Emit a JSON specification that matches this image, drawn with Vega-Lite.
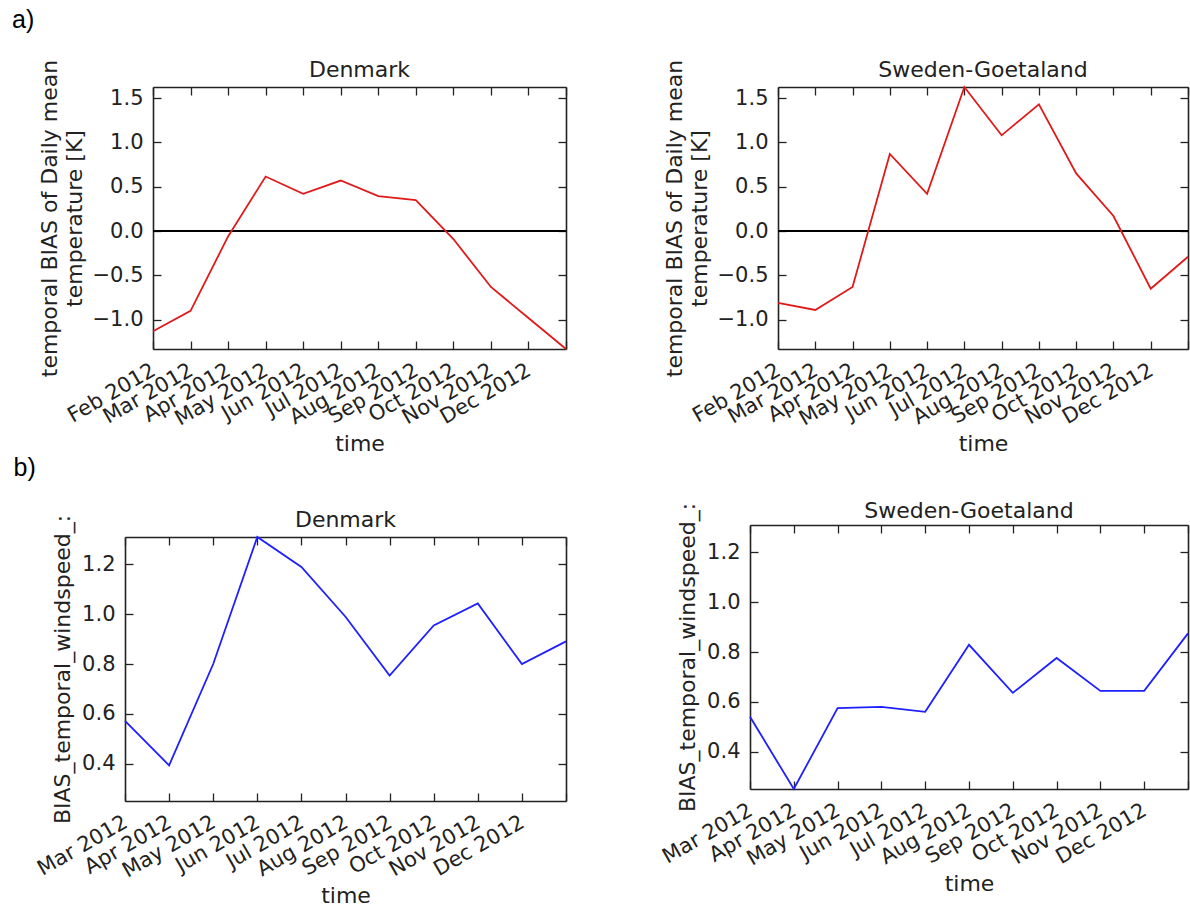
{
  "$schema": "https://vega.github.io/schema/vega-lite/v6.json",
  "padding": {"left": 12, "top": 8, "right": 0, "bottom": 0},
  "background": "white",
  "datasets": {
    "temp_dk": [
      {"month": "Feb 2012", "value": -1.13},
      {"month": "Mar 2012", "value": -0.90},
      {"month": "Apr 2012", "value": -0.06},
      {"month": "May 2012", "value": 0.615},
      {"month": "Jun 2012", "value": 0.42},
      {"month": "Jul 2012", "value": 0.57},
      {"month": "Aug 2012", "value": 0.395},
      {"month": "Sep 2012", "value": 0.35},
      {"month": "Oct 2012", "value": -0.09},
      {"month": "Nov 2012", "value": -0.63},
      {"month": "Dec 2012", "value": -0.98},
      {"month": "Jan 2013", "value": -1.33}
    ],
    "temp_se": [
      {"month": "Feb 2012", "value": -0.81},
      {"month": "Mar 2012", "value": -0.89},
      {"month": "Apr 2012", "value": -0.63},
      {"month": "May 2012", "value": 0.87},
      {"month": "Jun 2012", "value": 0.42},
      {"month": "Jul 2012", "value": 1.625},
      {"month": "Aug 2012", "value": 1.08},
      {"month": "Sep 2012", "value": 1.43},
      {"month": "Oct 2012", "value": 0.65},
      {"month": "Nov 2012", "value": 0.17},
      {"month": "Dec 2012", "value": -0.65},
      {"month": "Jan 2013", "value": -0.29}
    ],
    "ws_dk": [
      {"month": "Mar 2012", "value": 0.572},
      {"month": "Apr 2012", "value": 0.393},
      {"month": "May 2012", "value": 0.80},
      {"month": "Jun 2012", "value": 1.31},
      {"month": "Jul 2012", "value": 1.19},
      {"month": "Aug 2012", "value": 0.99},
      {"month": "Sep 2012", "value": 0.754},
      {"month": "Oct 2012", "value": 0.955},
      {"month": "Nov 2012", "value": 1.043},
      {"month": "Dec 2012", "value": 0.80},
      {"month": "Jan 2013", "value": 0.891}
    ],
    "ws_se": [
      {"month": "Mar 2012", "value": 0.54},
      {"month": "Apr 2012", "value": 0.25},
      {"month": "May 2012", "value": 0.575},
      {"month": "Jun 2012", "value": 0.58},
      {"month": "Jul 2012", "value": 0.56},
      {"month": "Aug 2012", "value": 0.829},
      {"month": "Sep 2012", "value": 0.636},
      {"month": "Oct 2012", "value": 0.776},
      {"month": "Nov 2012", "value": 0.644},
      {"month": "Dec 2012", "value": 0.644},
      {"month": "Jan 2013", "value": 0.875}
    ]
  },
  "config": {
    "view": {"stroke": null},
    "axis": {
      "domain": true,
      "domainColor": "#222222",
      "domainWidth": 1.6,
      "grid": false,
      "tickSize": -8,
      "tickColor": "#222222",
      "tickWidth": 1.3,
      "labelFont": "DejaVu Sans",
      "labelFontSize": 21,
      "labelColor": "#222222",
      "labelPadding": 18,
      "labelOverlap": false,
      "labelBound": false,
      "labelFlush": false,
      "titleFont": "DejaVu Sans",
      "titleFontSize": 22,
      "titleFontWeight": "normal",
      "titleColor": "#222222"
    },
    "title": {"font": "DejaVu Sans", "fontSize": 22, "fontWeight": "normal", "color": "#222222", "offset": 9}
  },
  "spacing": 86,
  "hconcat": [
    {
      "align": "none",
      "spacing": 1,
      "vconcat": [
        {
          "title": {"text": "a)", "anchor": "start", "font": "Liberation Sans", "fontSize": 25, "fontWeight": "normal", "color": "#000000", "offset": 26, "dx": -26},
          "vconcat": [
            {
              "title": {"text": "Denmark", "dy": 32, "dx": 14},
              "width": 441,
              "height": 262,
              "data": {"name": "temp_dk"},
              "layer": [
                {"mark": {"type": "rule", "color": "#000000", "strokeWidth": 1.2},
                 "encoding": {
                   "x": {"datum": "Feb 2012", "type": "ordinal", "scale": {"type": "point", "padding": 0, "domain": ["Feb 2012", "Mar 2012", "Apr 2012", "May 2012", "Jun 2012", "Jul 2012", "Aug 2012", "Sep 2012", "Oct 2012", "Nov 2012", "Dec 2012", "Jan 2013"], "range": [28, 441]}, "axis": null},
                   "x2": {"datum": "Jan 2013"},
                   "y": {"datum": 0, "type": "quantitative", "axis": null}
                 }},
                {"mark": {"type": "line", "opacity": 0},
                 "encoding": {
                   "x": {"field": "month", "type": "ordinal", "scale": {"type": "point", "padding": 0, "domain": ["Feb 2012", "Mar 2012", "Apr 2012", "May 2012", "Jun 2012", "Jul 2012", "Aug 2012", "Sep 2012", "Oct 2012", "Nov 2012", "Dec 2012", "Jan 2013"], "range": [28, 441]}, "axis": {"orient": "top", "labels": false, "title": null}},
                   "y": {"field": "value", "type": "quantitative", "scale": {"domain": [-1.33, 1.625], "nice": false, "zero": false}, "axis": {"orient": "right", "labels": false, "title": null, "values": [-1, -0.5, 0, 0.5, 1, 1.5]}}
                 }},
                {"mark": {"type": "line", "color": "#e01a1a", "strokeWidth": 1.8},
                 "encoding": {
                   "x": {"field": "month", "type": "ordinal", "scale": {"type": "point", "padding": 0, "domain": ["Feb 2012", "Mar 2012", "Apr 2012", "May 2012", "Jun 2012", "Jul 2012", "Aug 2012", "Sep 2012", "Oct 2012", "Nov 2012", "Dec 2012", "Jan 2013"], "range": [28, 441]}, "axis": {"orient": "bottom", "title": "time", "labelAngle": -30, "labelAlign": "right", "labelBaseline": "top", "labelOffset": -5, "titlePadding": 5, "labelExpr": "datum.value == 'Jan 2013' ? '' : datum.label"}},
                   "y": {"field": "value", "type": "quantitative", "scale": {"domain": [-1.33, 1.625], "nice": false, "zero": false}, "axis": {"orient": "left", "offset": -28, "title": ["temporal BIAS of Daily mean", "temperature [K]"], "titleLineHeight": 25, "titlePadding": 6, "values": [-1, -0.5, 0, 0.5, 1, 1.5], "format": ".1f", "labelExpr": "replace(datum.label, '-', '−')"}}
                 }}
              ],
              "resolve": {"axis": {"x": "independent", "y": "independent"}}
            }
          ]
        },
        {
          "title": {"text": "b)", "anchor": "start", "font": "Liberation Sans", "fontSize": 25, "fontWeight": "normal", "color": "#000000", "offset": 28, "dx": -20},
          "vconcat": [
            {
              "title": {"text": "Denmark", "dy": 27},
              "width": 441,
              "height": 264,
              "data": {"name": "ws_dk"},
              "layer": [
                {"mark": {"type": "line", "opacity": 0},
                 "encoding": {
                   "x": {"field": "month", "type": "ordinal", "scale": {"type": "point", "padding": 0, "domain": ["Mar 2012", "Apr 2012", "May 2012", "Jun 2012", "Jul 2012", "Aug 2012", "Sep 2012", "Oct 2012", "Nov 2012", "Dec 2012", "Jan 2013"]}, "axis": {"orient": "top", "labels": false, "title": null}},
                   "y": {"field": "value", "type": "quantitative", "scale": {"domain": [0.25, 1.31], "nice": false, "zero": false}, "axis": {"orient": "right", "labels": false, "title": null, "values": [0.4, 0.6, 0.8, 1.0, 1.2]}}
                 }},
                {"mark": {"type": "line", "color": "#1f1fff", "strokeWidth": 1.8},
                 "encoding": {
                   "x": {"field": "month", "type": "ordinal", "scale": {"type": "point", "padding": 0, "domain": ["Mar 2012", "Apr 2012", "May 2012", "Jun 2012", "Jul 2012", "Aug 2012", "Sep 2012", "Oct 2012", "Nov 2012", "Dec 2012", "Jan 2013"]}, "axis": {"orient": "bottom", "title": "time", "labelAngle": -30, "labelAlign": "right", "labelBaseline": "top", "labelOffset": -5, "titlePadding": 5, "labelExpr": "datum.value == 'Jan 2013' ? '' : datum.label"}},
                   "y": {"field": "value", "type": "quantitative", "scale": {"domain": [0.25, 1.31], "nice": false, "zero": false}, "axis": {"orient": "left", "title": "BIAS_temporal_windspeed_:", "titlePadding": 7, "values": [0.4, 0.6, 0.8, 1.0, 1.2], "format": ".1f"}}
                 }}
              ],
              "resolve": {"axis": {"x": "independent", "y": "independent"}}
            }
          ]
        }
      ]
    },
    {
      "align": "none",
      "spacing": 45,
      "vconcat": [
        {
          "title": {"text": "Sweden-Goetaland", "dy": 32, "dx": 14},
          "width": 438,
          "height": 262,
          "data": {"name": "temp_se"},
          "layer": [
            {"mark": {"type": "rule", "color": "#000000", "strokeWidth": 1.2},
             "encoding": {
               "x": {"datum": "Feb 2012", "type": "ordinal", "scale": {"type": "point", "padding": 0, "domain": ["Feb 2012", "Mar 2012", "Apr 2012", "May 2012", "Jun 2012", "Jul 2012", "Aug 2012", "Sep 2012", "Oct 2012", "Nov 2012", "Dec 2012", "Jan 2013"], "range": [28, 438]}, "axis": null},
               "x2": {"datum": "Jan 2013"},
               "y": {"datum": 0, "type": "quantitative", "axis": null}
             }},
            {"mark": {"type": "line", "opacity": 0},
             "encoding": {
               "x": {"field": "month", "type": "ordinal", "scale": {"type": "point", "padding": 0, "domain": ["Feb 2012", "Mar 2012", "Apr 2012", "May 2012", "Jun 2012", "Jul 2012", "Aug 2012", "Sep 2012", "Oct 2012", "Nov 2012", "Dec 2012", "Jan 2013"], "range": [28, 438]}, "axis": {"orient": "top", "labels": false, "title": null}},
               "y": {"field": "value", "type": "quantitative", "scale": {"domain": [-1.33, 1.625], "nice": false, "zero": false}, "axis": {"orient": "right", "labels": false, "title": null, "values": [-1, -0.5, 0, 0.5, 1, 1.5]}}
             }},
            {"mark": {"type": "line", "color": "#e01a1a", "strokeWidth": 1.8},
             "encoding": {
               "x": {"field": "month", "type": "ordinal", "scale": {"type": "point", "padding": 0, "domain": ["Feb 2012", "Mar 2012", "Apr 2012", "May 2012", "Jun 2012", "Jul 2012", "Aug 2012", "Sep 2012", "Oct 2012", "Nov 2012", "Dec 2012", "Jan 2013"], "range": [28, 438]}, "axis": {"orient": "bottom", "title": "time", "labelAngle": -30, "labelAlign": "right", "labelBaseline": "top", "labelOffset": -5, "titlePadding": 5, "labelExpr": "datum.value == 'Jan 2013' ? '' : datum.label"}},
               "y": {"field": "value", "type": "quantitative", "scale": {"domain": [-1.33, 1.625], "nice": false, "zero": false}, "axis": {"orient": "left", "offset": -28, "title": ["temporal BIAS of Daily mean", "temperature [K]"], "titleLineHeight": 25, "titlePadding": 6, "values": [-1, -0.5, 0, 0.5, 1, 1.5], "format": ".1f", "labelExpr": "replace(datum.label, '-', '−')"}}
             }}
          ],
          "resolve": {"axis": {"x": "independent", "y": "independent"}}
        },
        {
          "title": {"text": "Sweden-Goetaland", "dy": 30},
          "width": 438,
          "height": 264,
          "data": {"name": "ws_se"},
          "layer": [
            {"mark": {"type": "line", "opacity": 0},
             "encoding": {
               "x": {"field": "month", "type": "ordinal", "scale": {"type": "point", "padding": 0, "domain": ["Mar 2012", "Apr 2012", "May 2012", "Jun 2012", "Jul 2012", "Aug 2012", "Sep 2012", "Oct 2012", "Nov 2012", "Dec 2012", "Jan 2013"]}, "axis": {"orient": "top", "labels": false, "title": null}},
               "y": {"field": "value", "type": "quantitative", "scale": {"domain": [0.25, 1.31], "nice": false, "zero": false}, "axis": {"orient": "right", "labels": false, "title": null, "values": [0.4, 0.6, 0.8, 1.0, 1.2]}}
             }},
            {"mark": {"type": "line", "color": "#1f1fff", "strokeWidth": 1.8},
             "encoding": {
               "x": {"field": "month", "type": "ordinal", "scale": {"type": "point", "padding": 0, "domain": ["Mar 2012", "Apr 2012", "May 2012", "Jun 2012", "Jul 2012", "Aug 2012", "Sep 2012", "Oct 2012", "Nov 2012", "Dec 2012", "Jan 2013"]}, "axis": {"orient": "bottom", "title": "time", "labelAngle": -30, "labelAlign": "right", "labelBaseline": "top", "labelOffset": -5, "titlePadding": 5, "labelExpr": "datum.value == 'Jan 2013' ? '' : datum.label"}},
               "y": {"field": "value", "type": "quantitative", "scale": {"domain": [0.25, 1.31], "nice": false, "zero": false}, "axis": {"orient": "left", "title": "BIAS_temporal_windspeed_:", "titlePadding": 7, "values": [0.4, 0.6, 0.8, 1.0, 1.2], "format": ".1f"}}
             }}
          ],
          "resolve": {"axis": {"x": "independent", "y": "independent"}}
        }
      ]
    }
  ]
}
